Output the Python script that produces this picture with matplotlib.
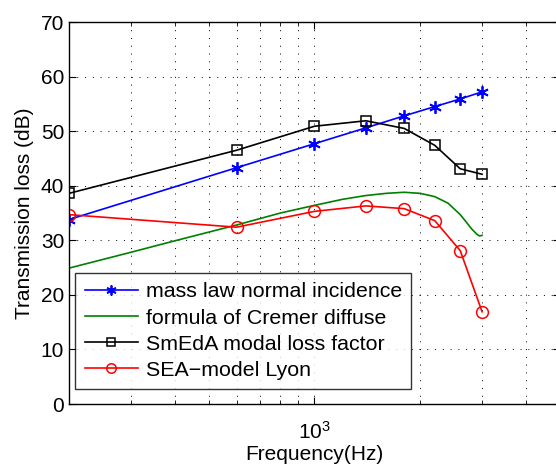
import matplotlib
matplotlib.use("Agg")
import matplotlib.pyplot as plt
from matplotlib.ticker import LogLocator, NullFormatter, FixedLocator

plt.rcParams['font.family'] = ['Liberation Sans', 'DejaVu Sans']

freq = [200, 600, 1000, 1400, 1800, 2200, 2600, 3000]
mass_law = [33.8, 43.3, 47.7, 50.6, 52.8, 54.5, 55.9, 57.2]
smeda = [38.6, 46.5, 50.9, 51.9, 50.5, 47.4, 43.1, 42.1]
sea_lyon = [34.7, 32.4, 35.3, 36.3, 35.8, 33.6, 28.1, 16.9]

cremer_f = [200, 300, 400, 500, 600, 800, 1000, 1200, 1400, 1600, 1800, 2000, 2200, 2400, 2600, 2700, 2800, 2900, 2950, 3000]
cremer_tl = [24.9, 27.8, 29.9, 31.5, 32.8, 35.0, 36.4, 37.5, 38.2, 38.6, 38.8, 38.6, 38.0, 36.8, 34.7, 33.4, 32.1, 31.1, 30.8, 30.9]

labels = ['mass law normal incidence', 'formula of Cremer diffuse',
          'SmEdA modal loss factor', 'SEA\u2212model Lyon']

fs = 15

fig = plt.figure(figsize=(5.56, 4.66), dpi=100)
ax = fig.add_axes([69/556, (466-404)/466, (560-69)/556, (404-22)/466])

ax.plot(freq, mass_law, color='#0000ff', lw=1.2, marker=(6, 2, 0), ms=9, mew=1.3, label=labels[0])
ax.plot(cremer_f, cremer_tl, color='#008000', lw=1.2, label=labels[1])
ax.plot(freq, smeda, color='black', lw=1.2, marker='s', ms=7, mfc='none', mew=1.1, label=labels[2])
ax.plot(freq, sea_lyon, color='#ff0000', lw=1.2, marker='o', ms=8.5, mfc='none', mew=1.1, label=labels[3])

ax.set_xscale('log')
ax.set_xlim(200, 5000)
ax.set_ylim(0, 70)
ax.set_yticks(range(0, 71, 10))
ax.xaxis.set_major_locator(FixedLocator([1000]))
ax.xaxis.set_minor_locator(LogLocator(base=10, subs=range(2, 10), numticks=20))
ax.xaxis.set_minor_formatter(NullFormatter())

ax.tick_params(which='both', direction='in', top=True, right=True, labelsize=fs)
ax.tick_params(which='major', length=5, width=0.8)
ax.tick_params(which='minor', length=3, width=0.6)
ax.tick_params(axis='x', which='major', pad=12)

grid_style = dict(color='black', linestyle=(0, (1, 7)), linewidth=0.7)
ax.grid(True, which='major', axis='both', **grid_style)
ax.grid(True, which='minor', axis='x', **grid_style)

for s in ax.spines.values():
    s.set_linewidth(1.0)

ax.set_xlabel('Frequency(Hz)', fontsize=fs, labelpad=2)
ax.set_ylabel('Transmission loss (dB)', fontsize=fs, labelpad=5)

leg = ax.legend(loc='lower left', bbox_to_anchor=(0.0122, 0.0385), fontsize=15.4,
                frameon=True, fancybox=False, edgecolor='black', handlelength=2.5,
                handletextpad=0.35, borderpad=0.45, labelspacing=0.33, borderaxespad=0.0,
                markerscale=0.8)
leg.get_frame().set_linewidth(1.0)

fig.savefig('out.png', dpi=100)
